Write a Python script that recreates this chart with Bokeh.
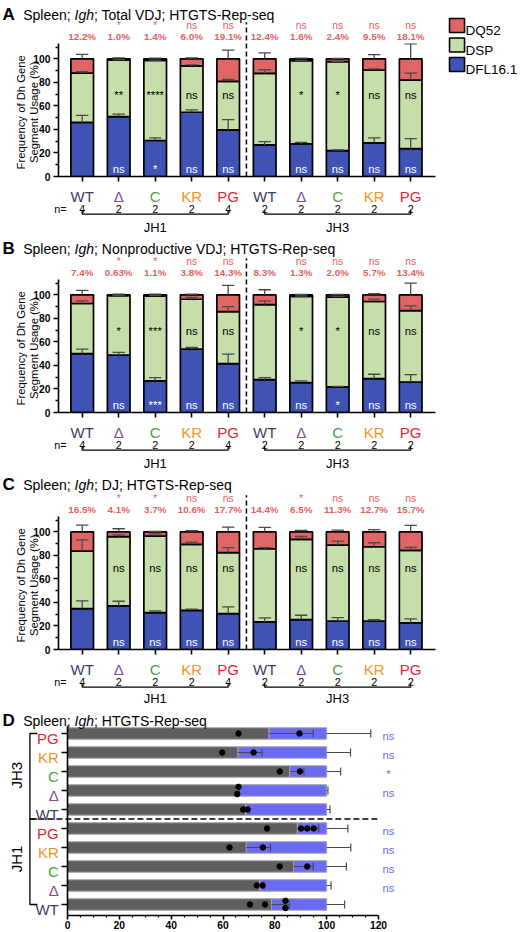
import math
from bokeh.plotting import figure
from bokeh.models import ColumnDataSource, Range1d, FixedTicker
from bokeh.layouts import column
from bokeh.core.properties import value
from bokeh.embed import file_html
from bokeh.resources import INLINE

FONT = "Liberation Sans"

# ---------------- data ----------------
genotypes = ["WT", "Δ", "C", "KR", "PG"]
genotype_colors = ["#3a3f66", "#7d4a9b", "#4f9f45", "#f0952a", "#dc2a35"]
jh_groups = ["JH1", "JH3"]
n_mice = ["4", "2", "2", "2", "4", "2", "2", "2", "2", "2"]
segment_names = ["DFL16.1", "DSP", "DQ52"]

# Panel A: Total VDJ (JH1 WT..PG, JH3 WT..PG)
A_dfl = [46.0, 50.9, 30.6, 54.6, 39.6, 26.8, 27.7, 22.0, 28.6, 23.7]
A_dsp = [41.8, 48.1, 68.0, 39.4, 41.3, 60.8, 70.7, 75.6, 61.9, 58.2]
A_dq52 = [12.2, 1.0, 1.4, 6.0, 19.1, 12.4, 1.6, 2.4, 9.5, 18.1]
A_sd_dfl = [6.0, 2.1, 2.3, 2.0, 8.8, 2.9, 1.3, 0.6, 4.2, 8.5]
A_sd_dsp = [1.2, 0.3, 0.3, 0.9, 1.5, 3.1, 0.3, 0.3, 1.0, 5.9]
A_sd_dq52 = [3.7, 0.8, 0.6, 0.8, 7.4, 5.0, 0.5, 0.3, 3.5, 12.8]
A_sig_top = ["", "*", "*", "ns", "ns", "", "ns", "ns", "ns", "ns"]
A_pct = ["12.2%", "1.0%", "1.4%", "6.0%", "19.1%", "12.4%", "1.6%", "2.4%", "9.5%", "18.1%"]
A_sig_dsp = ["", "**", "****", "ns", "ns", "", "*", "*", "ns", "ns"]
A_sig_dfl = ["", "ns", "*", "ns", "ns", "", "ns", "ns", "ns", "ns"]

# Panel B: Nonproductive VDJ
B_dfl = [50.1, 48.7, 26.8, 53.8, 41.6, 27.9, 25.4, 21.7, 28.8, 25.9]
B_dsp = [42.5, 50.67, 72.1, 42.4, 44.1, 63.8, 73.3, 76.3, 65.5, 60.7]
B_dq52 = [7.4, 0.63, 1.1, 3.8, 14.3, 8.3, 1.3, 2.0, 5.7, 13.4]
B_sd_dfl = [3.7, 2.3, 2.8, 1.5, 8.0, 1.7, 1.4, 0.5, 3.7, 6.3]
B_sd_dsp = [2.3, 0.2, 0.4, 1.5, 4.3, 3.2, 0.3, 0.5, 2.0, 4.0]
B_sd_dq52 = [3.7, 0.6, 0.6, 0.6, 8.0, 4.3, 0.3, 0.3, 0.9, 10.0]
B_sig_top = ["", "*", "*", "ns", "ns", "", "ns", "ns", "ns", "ns"]
B_pct = ["7.4%", "0.63%", "1.1%", "3.8%", "14.3%", "8.3%", "1.3%", "2.0%", "5.7%", "13.4%"]
B_sig_dsp = ["", "*", "***", "ns", "ns", "", "*", "*", "ns", "ns"]
B_sig_dfl = ["", "ns", "***", "ns", "ns", "", "ns", "*", "ns", "ns"]

# Panel C: DJ
C_dfl = [34.8, 37.0, 31.4, 33.3, 30.5, 23.4, 25.4, 24.2, 24.2, 22.7]
C_dsp = [48.7, 58.9, 64.9, 56.1, 51.8, 62.2, 68.1, 64.5, 63.1, 61.6]
C_dq52 = [16.5, 4.1, 3.7, 10.6, 17.7, 14.4, 6.5, 11.3, 12.7, 15.7]
C_sd_dfl = [6.5, 4.0, 1.4, 0.9, 5.7, 3.4, 3.7, 2.8, 1.2, 3.3]
C_sd_dsp = [9.7, 1.5, 2.0, 1.8, 4.3, 1.0, 2.5, 3.4, 3.4, 2.5]
C_sd_dq52 = [5.7, 2.6, 0.3, 0.9, 4.0, 3.7, 1.1, 1.4, 1.9, 5.4]
C_sig_top = ["", "*", "*", "ns", "ns", "", "*", "ns", "ns", "ns"]
C_pct = ["16.5%", "4.1%", "3.7%", "10.6%", "17.7%", "14.4%", "6.5%", "11.3%", "12.7%", "15.7%"]
C_sig_dsp = ["", "ns", "ns", "ns", "ns", "", "ns", "ns", "ns", "ns"]
C_sig_dfl = ["", "ns", "ns", "ns", "ns", "", "ns", "ns", "ns", "ns"]

# Panel D: rows bottom->top: JH1 WT, Δ, C, KR, PG, JH3 WT, Δ, C, KR, PG
D_mean = [78.7, 74.2, 87.2, 69.0, 88.7, 68.7, 65.8, 85.8, 65.8, 77.8]
D_sd = [6.9, 1.7, 7.6, 9.3, 8.2, 1.3, 0.5, 5.4, 9.2, 17.0]
D_dots = [[70.4, 76.2, 84.1, 84.1], [73.0, 75.3], [81.9, 92.5], [62.5, 75.4],
          [77.0, 90.1, 92.5, 95.0], [67.8, 69.5], [66.0, 65.5], [81.9, 89.7],
          [59.7, 71.8], [66.0, 89.5]]
D_sig = ["", "ns", "ns", "ns", "ns", "", "ns", "*", "ns", "ns"]

# ---------------- style ----------------
BLUE = "#3f53b5"
GREEN = "#c6dea9"
RED = "#e06666"
RED_TXT = "#e5605e"
ERR = "#4a4a4a"
D_GREY = "#5e5e5e"
D_BLUE = "#6a6af2"
D_EDGE = "#a3a3a3"

W = 520
BL, BR = 58, 85          # common left/right borders -> frame width 377
XMIN, XMAX = -0.649, 9.68
YTOP = 113.0


def add_text(p, xs, ys, texts, size, color="black", style="normal", align="center",
             baseline="alphabetic", angle=0.0, overlay=True, line_height=1.2):
    cols = color if isinstance(color, list) else [color] * len(texts)
    keep = [i for i, t in enumerate(texts) if t != ""]
    data = dict(x=[xs[i] for i in keep], y=[ys[i] for i in keep],
                t=[texts[i] for i in keep], c=[cols[i] for i in keep])
    src = ColumnDataSource(data)
    r = p.text(x="x", y="y", text="t", source=src, text_color="c", text_font=value(FONT),
               text_font_size=value(f"{size}px"), text_font_style=style,
               text_align=align, text_baseline=baseline, angle=angle,
               text_line_height=line_height)
    if overlay:
        r.level = "overlay"
    return r


def add_title(p, letter, rest, x_letter, x0, y, ppu):
    fs = 14
    add_text(p, [x_letter], [y], [letter], 17, style="bold", align="left")
    add_text(p, [x0], [y], ["Spleen;"], fs, align="left")
    x1 = x0 + 3.669 * fs / ppu
    add_text(p, [x1], [y], ["Igh"], fs, style="italic", align="left")
    x2 = x1 + 1.390 * fs / ppu
    add_text(p, [x2], [y], [rest], fs, align="left")


def style_common(p):
    p.outline_line_color = None
    p.xgrid.visible = False
    p.ygrid.visible = False
    for ax in (p.xaxis[0], p.yaxis[0]):
        ax.axis_line_width = 1.6
        ax.major_tick_line_width = 1.6
        ax.minor_tick_line_width = 1.3
        ax.major_tick_in = 0
        ax.minor_tick_in = 0
        ax.major_label_text_font = FONT
        ax.major_label_text_font_style = "bold"
        ax.major_label_text_font_size = "10.3px"
        ax.major_label_text_color = "black"


def bar_panel(letter, rest, dfl, dsp, dq52, sd_dfl, sd_dsp, sd_dq52, sig_top, pct,
              sig_dsp, sig_dfl, h, bt, bb, title_y, jh_y=-43.2, legend=False):
    p = figure(width=W, height=h, x_range=Range1d(XMIN, XMAX), y_range=Range1d(0, YTOP),
               output_backend="svg", toolbar_location=None,
               min_border_left=BL, min_border_right=BR, min_border_top=bt, min_border_bottom=bb)
    style_common(p)
    ppu = (W - BL - BR) / (XMAX - XMIN)
    xs = list(range(10))
    src = ColumnDataSource(dict(x=xs, dfl=dfl, dsp=dsp, dq52=dq52))
    p.vbar_stack(["dfl", "dsp", "dq52"], x="x", width=0.62, source=src,
                 fill_color=[BLUE, GREEN, RED], line_color="black", line_width=1.7)
    tops_b = list(dfl)
    tops_g = [a + b for a, b in zip(dfl, dsp)]
    tops_r = [a + b + c for a, b, c in zip(dfl, dsp, dq52)]
    for tops, sds in ((tops_b, sd_dfl), (tops_g, sd_dsp), (tops_r, sd_dq52)):
        ends = [t + s for t, s in zip(tops, sds)]
        p.segment(x0=xs, y0=tops, x1=xs, y1=ends, line_color=ERR, line_width=1.3)
        p.segment(x0=[x - 0.17 for x in xs], y0=ends, x1=[x + 0.17 for x in xs], y1=ends,
                  line_color=ERR, line_width=1.3)
    # separator between JH1 and JH3
    sep = p.segment(x0=[4.5], y0=[0], x1=[4.5], y1=[131], line_color="black",
                    line_width=1.5, line_dash="5 3")
    sep.level = "overlay"
    # in-bar significance
    add_text(p, xs, [69.5] * 10, sig_dsp, 11.3, overlay=False)
    add_text(p, xs, [6] * 10, sig_dfl, 11.3, color="white", overlay=False)
    # above bars
    add_text(p, xs, [128.7] * 10, sig_top, 10.3, color=RED_TXT)
    add_text(p, xs, [119.3] * 10, pct, 9.8, color=RED_TXT, style="bold")
    # below axis
    add_text(p, xs, [-17.4] * 10, genotypes * 2, 15, color=genotype_colors * 2)
    add_text(p, xs, [-27.3] * 10, n_mice, 10.8)
    add_text(p, [-0.43], [-27.3], ["n="], 10.8, align="right")
    br = p.multi_line(xs=[[0, 0, 4, 4], [5, 5, 9, 9]],
                      ys=[[-28.6, -32, -32, -28.6], [-28.6, -32, -32, -28.6]],
                      line_color="black", line_width=1.3)
    br.level = "overlay"
    add_text(p, [2, 7], [jh_y, jh_y], jh_groups, 13)
    # y label
    add_text(p, [-1.5], [54.6], ["Frequency of Dh Gene\nSegment Usage (%)"], 11.3,
             angle=math.pi / 2, baseline="middle", line_height=1.1)
    add_title(p, letter, rest, -2.184, -1.616, title_y, ppu)

    p.xaxis.ticker = FixedTicker(ticks=xs)
    p.xaxis.major_label_text_color = None
    p.xaxis.major_tick_out = 5
    p.xaxis.minor_tick_out = 0
    p.yaxis.ticker = FixedTicker(ticks=[0, 20, 40, 60, 80, 100],
                                 minor_ticks=[10, 30, 50, 70, 90, 110])
    p.yaxis.major_tick_out = 5
    p.yaxis.minor_tick_out = 3
    p.yaxis.major_label_standoff = 3

    if legend:
        # legend drawn with the library's glyphs next to the frame
        leg_y = [128.3, 111.7, 95.2]
        leg_fill = [RED, GREEN, BLUE]
        leg_lab = [segment_names[2], segment_names[1], segment_names[0]]
        lr = p.rect(x=[10.27] * 3, y=leg_y, width=15, height=14, width_units="screen",
                    height_units="screen", fill_color=leg_fill, line_color="black",
                    line_width=1.6)
        lr.level = "overlay"
        add_text(p, [10.5] * 3, [v - 4.25 for v in leg_y], leg_lab, 13.5, align="left")
    return p


pA = bar_panel("A", "; Total VDJ; HTGTS-Rep-seq", A_dfl, A_dsp, A_dq52, A_sd_dfl, A_sd_dsp,
               A_sd_dq52, A_sig_top, A_pct, A_sig_dsp, A_sig_dfl, 236, 43, 60, 137.6, legend=True)
pB = bar_panel("B", "; Nonproductive VDJ; HTGTS-Rep-seq", B_dfl, B_dsp, B_dq52, B_sd_dfl,
               B_sd_dsp, B_sd_dq52, B_sig_top, B_pct, B_sig_dsp, B_sig_dfl, 236, 43, 60, 139.0)
pC = bar_panel("C", "; DJ; HTGTS-Rep-seq", C_dfl, C_dsp, C_dq52, C_sd_dfl, C_sd_dsp,
               C_sd_dq52, C_sig_top, C_pct, C_sig_dsp, C_sig_dfl, 235, 44, 58, 139.8, jh_y=-42.0)

# ---------------- panel D ----------------
D_PPU = 311.0 / 120.0
D_X0 = -(67 - BL) / D_PPU
D_X1 = 120 + ((W - BR) - 378) / D_PPU
pD = figure(width=W, height=225, x_range=Range1d(D_X0, D_X1), y_range=Range1d(-0.58, 9.42),
            output_backend="svg", toolbar_location=None,
            min_border_left=BL, min_border_right=BR, min_border_top=18, min_border_bottom=17)
style_common(pD)
rows = list(range(10))
srcD = ColumnDataSource(dict(y=rows, mean=D_mean, full=[100] * 10))
pD.hbar(y="y", left=0, right="mean", height=0.6, source=srcD, fill_color=D_GREY,
        line_color=D_EDGE, line_width=1)
pD.hbar(y="y", left="mean", right="full", height=0.6, source=srcD, fill_color=D_BLUE,
        line_color=D_EDGE, line_width=1)
for base in (D_mean, [100] * 10):
    ends = [b + s for b, s in zip(base, D_sd)]
    pD.segment(x0=base, y0=rows, x1=ends, y1=rows, line_color=ERR, line_width=1.2)
    pD.segment(x0=ends, y0=[r - 0.21 for r in rows], x1=ends, y1=[r + 0.21 for r in rows],
               line_color=ERR, line_width=1.2)
dot_x, dot_y = [], []
for r, vals in enumerate(D_dots):
    for i, v in enumerate(vals):
        close = [j for j, w in enumerate(vals) if abs(v - w) < 1.0]
        off = 0.0
        if len(close) > 1:
            off = 0.19 if i == min(close) else -0.19
        dot_x.append(v)
        dot_y.append(r + off)
pD.scatter(x=dot_x, y=dot_y, size=5.5, color="black")
sepD = pD.segment(x0=[-14.7], y0=[4.5], x1=[120], y1=[4.5], line_color="black",
                  line_width=1.5, line_dash="6 3")
sepD.level = "overlay"
add_text(pD, [123.8] * 10, [r - 0.15 for r in rows], D_sig, 11.3, color=D_BLUE)
add_text(pD, [-3.37] * 10, [r - 0.28 for r in rows], genotypes * 2, 15,
         color=genotype_colors * 2, align="right")
brD = pD.multi_line(xs=[[-11.6, -14.5, -14.5, -11.6], [-14.5, -11.6]],
                    ys=[[9, 9, 0, 0], [4.5, 4.5]], line_color="black", line_width=1.3)
brD.level = "overlay"
add_text(pD, [-19.6, -19.6], [6.8, 2.4], ["JH3", "JH1"], 15, angle=math.pi / 2,
         baseline="middle")
add_title(pD, "D", "; HTGTS-Rep-seq", (2 - 67) / D_PPU, (22.7 - 67) / D_PPU, 9.67, D_PPU)
pD.xaxis.ticker = FixedTicker(ticks=[0, 20, 40, 60, 80, 100, 120],
                              minor_ticks=[v for v in range(0, 121, 5) if v % 20])
pD.xaxis.bounds = (0, 120)
pD.xaxis.major_tick_out = 4
pD.xaxis.minor_tick_out = 2
pD.xaxis.major_label_standoff = 1
pD.yaxis.ticker = FixedTicker(ticks=rows)
pD.yaxis.fixed_location = 0
pD.yaxis.major_label_text_color = None
pD.yaxis.major_tick_out = 6
pD.yaxis.minor_tick_out = 0

layout = column(pA, pB, pC, pD, spacing=0)
open("out.html", "w").write(file_html(layout, INLINE))
